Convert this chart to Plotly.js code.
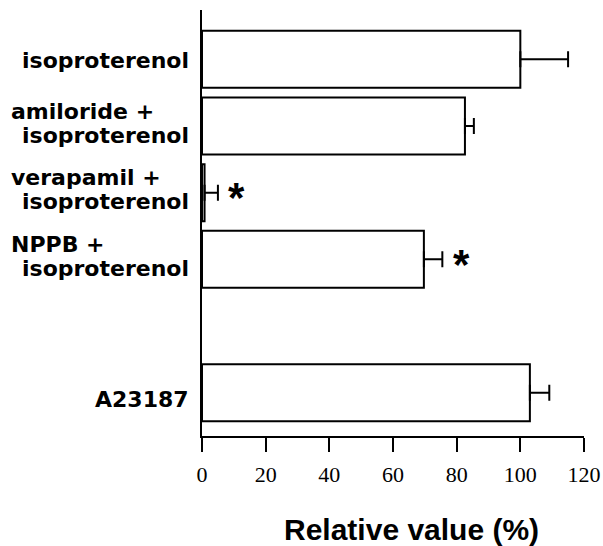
<!DOCTYPE html>
<html>
<head>
<meta charset="utf-8">
<script src="https://cdn.plot.ly/plotly-3.0.1.min.js"></script>
<style>html,body{margin:0;padding:0;background:#fff}#chart{width:603px;height:546px}</style>
</head>
<body>
<div id="chart"></div>
<script>
// ---- data ----
const categories = ['isoproterenol', 'amiloride + isoproterenol', 'verapamil + isoproterenol', 'NPPB + isoproterenol', 'A23187'];
const labelLines = [['isoproterenol'], ['amiloride +', 'isoproterenol'], ['verapamil +', 'isoproterenol'], ['NPPB +', 'isoproterenol'], ['A23187']];
const slots = [5, 4, 3, 2, 0];
const values = [100, 82.6, 0.8, 69.7, 103];
const errors = [15, 2.8, 4.2, 5.8, 6.1];
const significant = [false, false, true, true, false];
const xTicks = [0, 20, 40, 60, 80, 100, 120];
const xTitle = 'Relative value (%)';

// ---- layout helpers ----
const plotL = 202, plotR = 584;
const pw = plotR - plotL;
const pxToPaper = px => (px - plotL) / pw;
const labelFont = {family: 'DejaVu Sans', size: 22, color: '#000', weight: 'bold'};
const singleShift = {0: -1, 4: -7};

const annotations = [];
slots.forEach((s, i) => {
  const lines = labelLines[i];
  if (lines.length === 1) {
    annotations.push({xref: 'paper', yref: 'y', x: 0, y: s, xanchor: 'right', yanchor: 'middle',
      xshift: -11, yshift: singleShift[i] || 0, text: lines[0], showarrow: false, font: labelFont});
  } else {
    annotations.push({xref: 'paper', yref: 'y', x: pxToPaper(9), y: s, xanchor: 'left', yanchor: 'middle',
      xshift: 0, yshift: 15, text: lines[0], showarrow: false, font: labelFont});
    annotations.push({xref: 'paper', yref: 'y', x: 0, y: s, xanchor: 'right', yanchor: 'middle',
      xshift: -11, yshift: -9, text: lines[1], showarrow: false, font: labelFont});
  }
  if (significant[i]) {
    annotations.push({xref: 'x', yref: 'y', x: values[i] + errors[i], y: s, xanchor: 'center', yanchor: 'middle',
      xshift: 19, yshift: -5, text: '*', showarrow: false,
      font: {family: 'Liberation Sans', size: 42, color: '#000', weight: 'bold'}});
  }
});
annotations.push({xref: 'paper', yref: 'paper', x: pxToPaper(411), y: (435.7 - 529) / 425.7,
  xanchor: 'center', yanchor: 'middle', text: xTitle, showarrow: false,
  font: {family: 'Liberation Sans', size: 30, color: '#000', weight: 'bold'}});

const trace = {
  type: 'bar', orientation: 'h', x: values, y: slots, width: 0.855,
  text: categories, hoverinfo: 'text+x', textposition: 'none',
  marker: {color: '#fff', line: {color: '#000', width: 2}},
  error_x: {type: 'data', symmetric: false, array: errors, arrayminus: errors.map(() => 0),
    color: '#000', thickness: 2, width: 8},
  showlegend: false
};

const layout = {
  width: 603, height: 546,
  margin: {l: plotL, r: 603 - plotR, t: 10, b: 110, pad: 0},
  paper_bgcolor: '#fff', plot_bgcolor: '#fff',
  bargap: 0,
  xaxis: {range: [0, 120], tickvals: xTicks, ticktext: xTicks.map(String),
    ticks: 'outside', ticklen: 14, tickwidth: 2, tickcolor: '#000',
    ticklabelstandoff: 4,
    showline: true, linewidth: 2, linecolor: '#000', mirror: false,
    showgrid: false, zeroline: false,
    tickfont: {family: 'Liberation Serif', size: 22, color: '#000'}},
  yaxis: {range: [-0.65, 5.74], showline: true, linewidth: 2, linecolor: '#000',
    showticklabels: false, ticks: '', showgrid: false, zeroline: false},
  annotations: annotations
};

Plotly.newPlot('chart', [trace], layout, {displayModeBar: false, staticPlot: true});
</script>
</body>
</html>
